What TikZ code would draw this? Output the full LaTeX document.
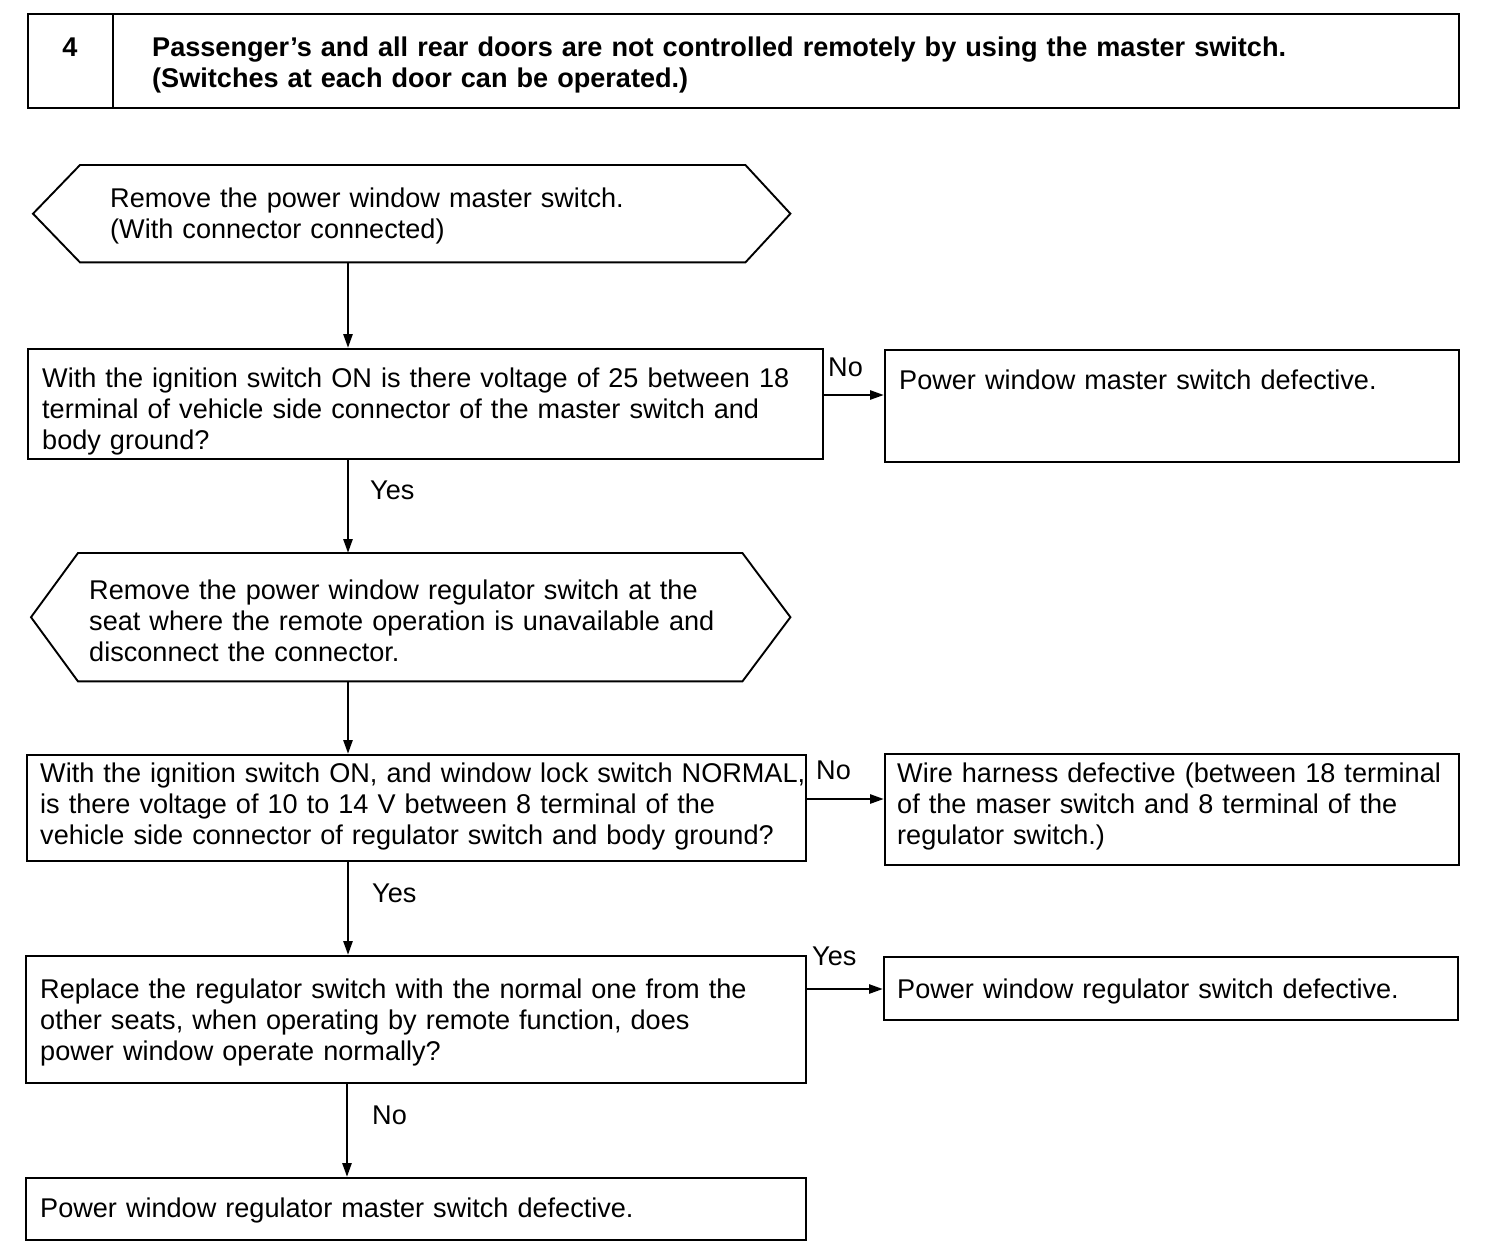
\documentclass[tikz,border=0pt]{standalone}
\usepackage{fontspec}
\setmainfont{Liberation Sans}
\usetikzlibrary{arrows.meta}
\newcommand\fsz{\fontsize{27.1}{31}\selectfont}
\begin{document}
\begin{tikzpicture}[x=1pt,y=-1pt,
  boxn/.style={draw,line width=1.9pt,inner sep=0pt,anchor=north west,minimum width=#1},
  hexn/.style={inner sep=0pt,anchor=north west,minimum width=#1},
  txt/.style={anchor=north west,inner sep=0pt,align=left,text width=#1,font=\fsz,execute at begin node=\strut},
  txt/.default=1300pt,
  lbl/.style={anchor=north west,inner sep=0pt,font=\fsz,execute at begin node=\strut},
  arr/.style={line width=2.6pt,-{Triangle[length=14pt,width=9pt]}},
  hexline/.style={line width=1.9pt,line join=miter}
]
\useasboundingbox (0,0) rectangle (1504,1258);
% header
\node[boxn=1431pt,minimum height=94pt] (hdr) at (27,13) {};
\coordinate (hdiv) at (113,0);
\draw[line width=1.9pt] (hdr.north -| hdiv) -- (hdr.south -| hdiv);
\node[lbl,anchor=north,font=\fsz\bfseries] (num) at (70,35) {4};
\node[txt,font=\fsz\bfseries] (htxt) at (152,35) {Passenger’s and all rear doors are not controlled remotely by using the master switch.\\(Switches at each door can be operated.)};
% hexagon 1
\node[hexn=757pt,minimum height=97pt] (h1) at (33,165) {};
\draw[hexline] (h1.west) -- ([xshift=47pt]h1.north west) -- ([xshift=-45pt]h1.north east) -- (h1.east) -- ([xshift=-45pt]h1.south east) -- ([xshift=47pt]h1.south west) -- cycle;
\node[txt] (t1) at (110,186) {Remove the power window master switch.\\(With connector connected)};
% box 2
\node[boxn=795pt,minimum height=110pt] (b2) at (27,348) {};
\node[txt] (t2) at (42,366) {With the ignition switch ON is there voltage of 25 between 18\\terminal of vehicle side connector of the master switch and\\body ground?};
\node[boxn=574pt,minimum height=112pt] (b2r) at (884,349) {};
\node[txt] (t2r) at (899,368) {Power window master switch defective.};
% hexagon 2
\node[hexn=759pt,minimum height=128pt] (h2) at (31,553) {};
\draw[hexline] (h2.west) -- ([xshift=47pt]h2.north west) -- ([xshift=-48pt]h2.north east) -- (h2.east) -- ([xshift=-48pt]h2.south east) -- ([xshift=47pt]h2.south west) -- cycle;
\node[txt] (t3) at (89,578) {Remove the power window regulator switch at the\\seat where the remote operation is unavailable and\\disconnect the connector.};
% box 3
\node[boxn=779pt,minimum height=106pt] (b3) at (26,754) {};
\node[txt] (t4) at (40,761) {With the ignition switch ON, and window lock switch NORMAL,\\is there voltage of 10 to 14 V between 8 terminal of the\\vehicle side connector of regulator switch and body ground?};
\node[boxn=574pt,minimum height=111pt] (b3r) at (884,753) {};
\node[txt] (t4r) at (897,761) {Wire harness defective (between 18 terminal\\of the maser switch and 8 terminal of the\\regulator switch.)};
% box 4
\node[boxn=780pt,minimum height=127pt] (b4) at (25,955) {};
\node[txt] (t5) at (40,977) {Replace the regulator switch with the normal one from the\\other seats, when operating by remote function, does\\power window operate normally?};
\node[boxn=574pt,minimum height=63pt] (b4r) at (883,956) {};
\node[txt] (t5r) at (897,977) {Power window regulator switch defective.};
% box 5
\node[boxn=780pt,minimum height=62pt] (b5) at (25,1177) {};
\node[txt] (t6) at (40,1196) {Power window regulator master switch defective.};
% connectors
\coordinate (ax) at (348,0);
\coordinate (ax2) at (347,0);
\coordinate (y1) at (0,395);
\coordinate (y2) at (0,799);
\coordinate (y3) at (0,989);
\draw[arr] (h1.south -| ax) -- (b2.north -| ax);
\draw[arr] (b2.south -| ax) -- (h2.north -| ax);
\draw[arr] (h2.south -| ax) -- (b3.north -| ax);
\draw[arr] (b3.south -| ax) -- (b4.north -| ax);
\draw[arr] (b4.south -| ax2) -- (b5.north -| ax2);
\draw[arr] (b2.east |- y1) -- (b2r.west |- y1);
\draw[arr] (b3.east |- y2) -- (b3r.west |- y2);
\draw[arr] (b4.east |- y3) -- (b4r.west |- y3);
% labels
\node[lbl] (l1) at (828,355) {No};
\node[lbl] (l2) at (370,478) {Yes};
\node[lbl] (l3) at (816,758) {No};
\node[lbl] (l4) at (372,881) {Yes};
\node[lbl] (l5) at (812,944) {Yes};
\node[lbl] (l6) at (372,1103) {No};
\end{tikzpicture}
\end{document}
